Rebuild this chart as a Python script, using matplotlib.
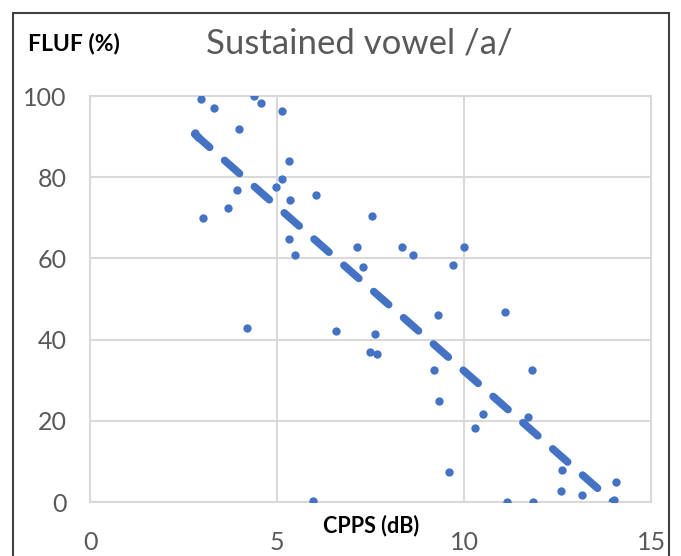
import matplotlib.pyplot as plt
from matplotlib.patches import Rectangle

# CPPS (dB) vs FLUF (%)
cpps = [2.8, 2.9, 2.96, 3.31, 4.39, 4.58, 5.13, 3.98, 5.31, 5.13, 4.96, 3.94,
        5.36, 6.05, 3.70, 3.01, 5.31, 5.48, 7.54, 7.15, 7.31, 8.34, 8.63, 10.0,
        9.71, 9.31, 11.09, 6.57, 7.61, 7.49, 7.67, 4.21, 9.20, 11.83, 9.32,
        10.51, 10.29, 11.71, 9.61, 12.63, 12.58, 13.16, 14.06, 14.01, 5.97,
        11.15, 11.84]
fluf = [91, 90, 99.2, 97.1, 100, 98.2, 96.2, 91.8, 84.1, 79.5, 77.5, 76.8,
        74.4, 75.6, 72.4, 69.9, 64.7, 60.9, 70.5, 62.9, 58.0, 62.9, 60.9, 62.9,
        58.3, 46.1, 46.7, 42.1, 41.5, 37.0, 36.4, 42.8, 32.5, 32.5, 24.9,
        21.6, 18.3, 20.9, 7.4, 7.9, 2.8, 1.7, 4.9, 0.5, 0.2,
        0, 0]

# linear trendline end points
trend_x = [2.8, 14.0]
trend_y = [90.6, -0.1]

x_ticks = [0, 5, 10, 15]
y_ticks = [0, 20, 40, 60, 80, 100]

plt.rcParams['font.family'] = ['Lato', 'DejaVu Sans']
blue = '#4472C4'
grey = '#d9d9d9'

fig = plt.figure(figsize=(6.81, 5.56), dpi=100)
ax = fig.add_axes([0.1322, 0.0971, 0.8238, 0.7302])

ax.scatter(cpps, fluf, s=36, color=blue, zorder=3, linewidths=0)
ax.plot(trend_x, trend_y, color=blue, linewidth=5.5, dashes=(2.6, 2.6),
        dash_capstyle='round', zorder=4)

ax.set_xlim(0, 15)
ax.set_ylim(0, 100)
ax.set_xticks(x_ticks)
ax.set_yticks(y_ticks)
ax.set_xticklabels([])
ax.tick_params(length=0, labelsize=18, labelcolor='#595959', pad=17)
ax.grid(True, color=grey, linewidth=1.5)
ax.set_axisbelow(True)
for sp in ax.spines.values():
    sp.set_color(grey)
    sp.set_linewidth(1.5)

# x tick labels sit low, below the axis title
for t in x_ticks:
    ax.annotate(str(t), (t, 0), xycoords='data', xytext=(0, -29),
                textcoords='offset points', ha='center', va='center',
                fontsize=18, color='#595959', annotation_clip=False)

fig.text(0.528, 0.922, 'Sustained vowel /a/', ha='center', va='center',
         fontsize=25, color='#595959')
fig.text(0.041, 0.922, 'FLUF (%)', ha='left', va='center', fontsize=16.5,
         fontweight='bold', color='black')
fig.text(0.545, 0.054, 'CPPS (dB)', ha='center', va='center', fontsize=15.5,
         fontweight='bold', color='black')

# outer frame
fig.patches.append(Rectangle((13 / 681, -0.05), 656 / 681, 1.05 - 13 / 556,
                             transform=fig.transFigure, fill=False,
                             edgecolor='#404040', linewidth=1.5))

fig.savefig('out.png', dpi=100)
